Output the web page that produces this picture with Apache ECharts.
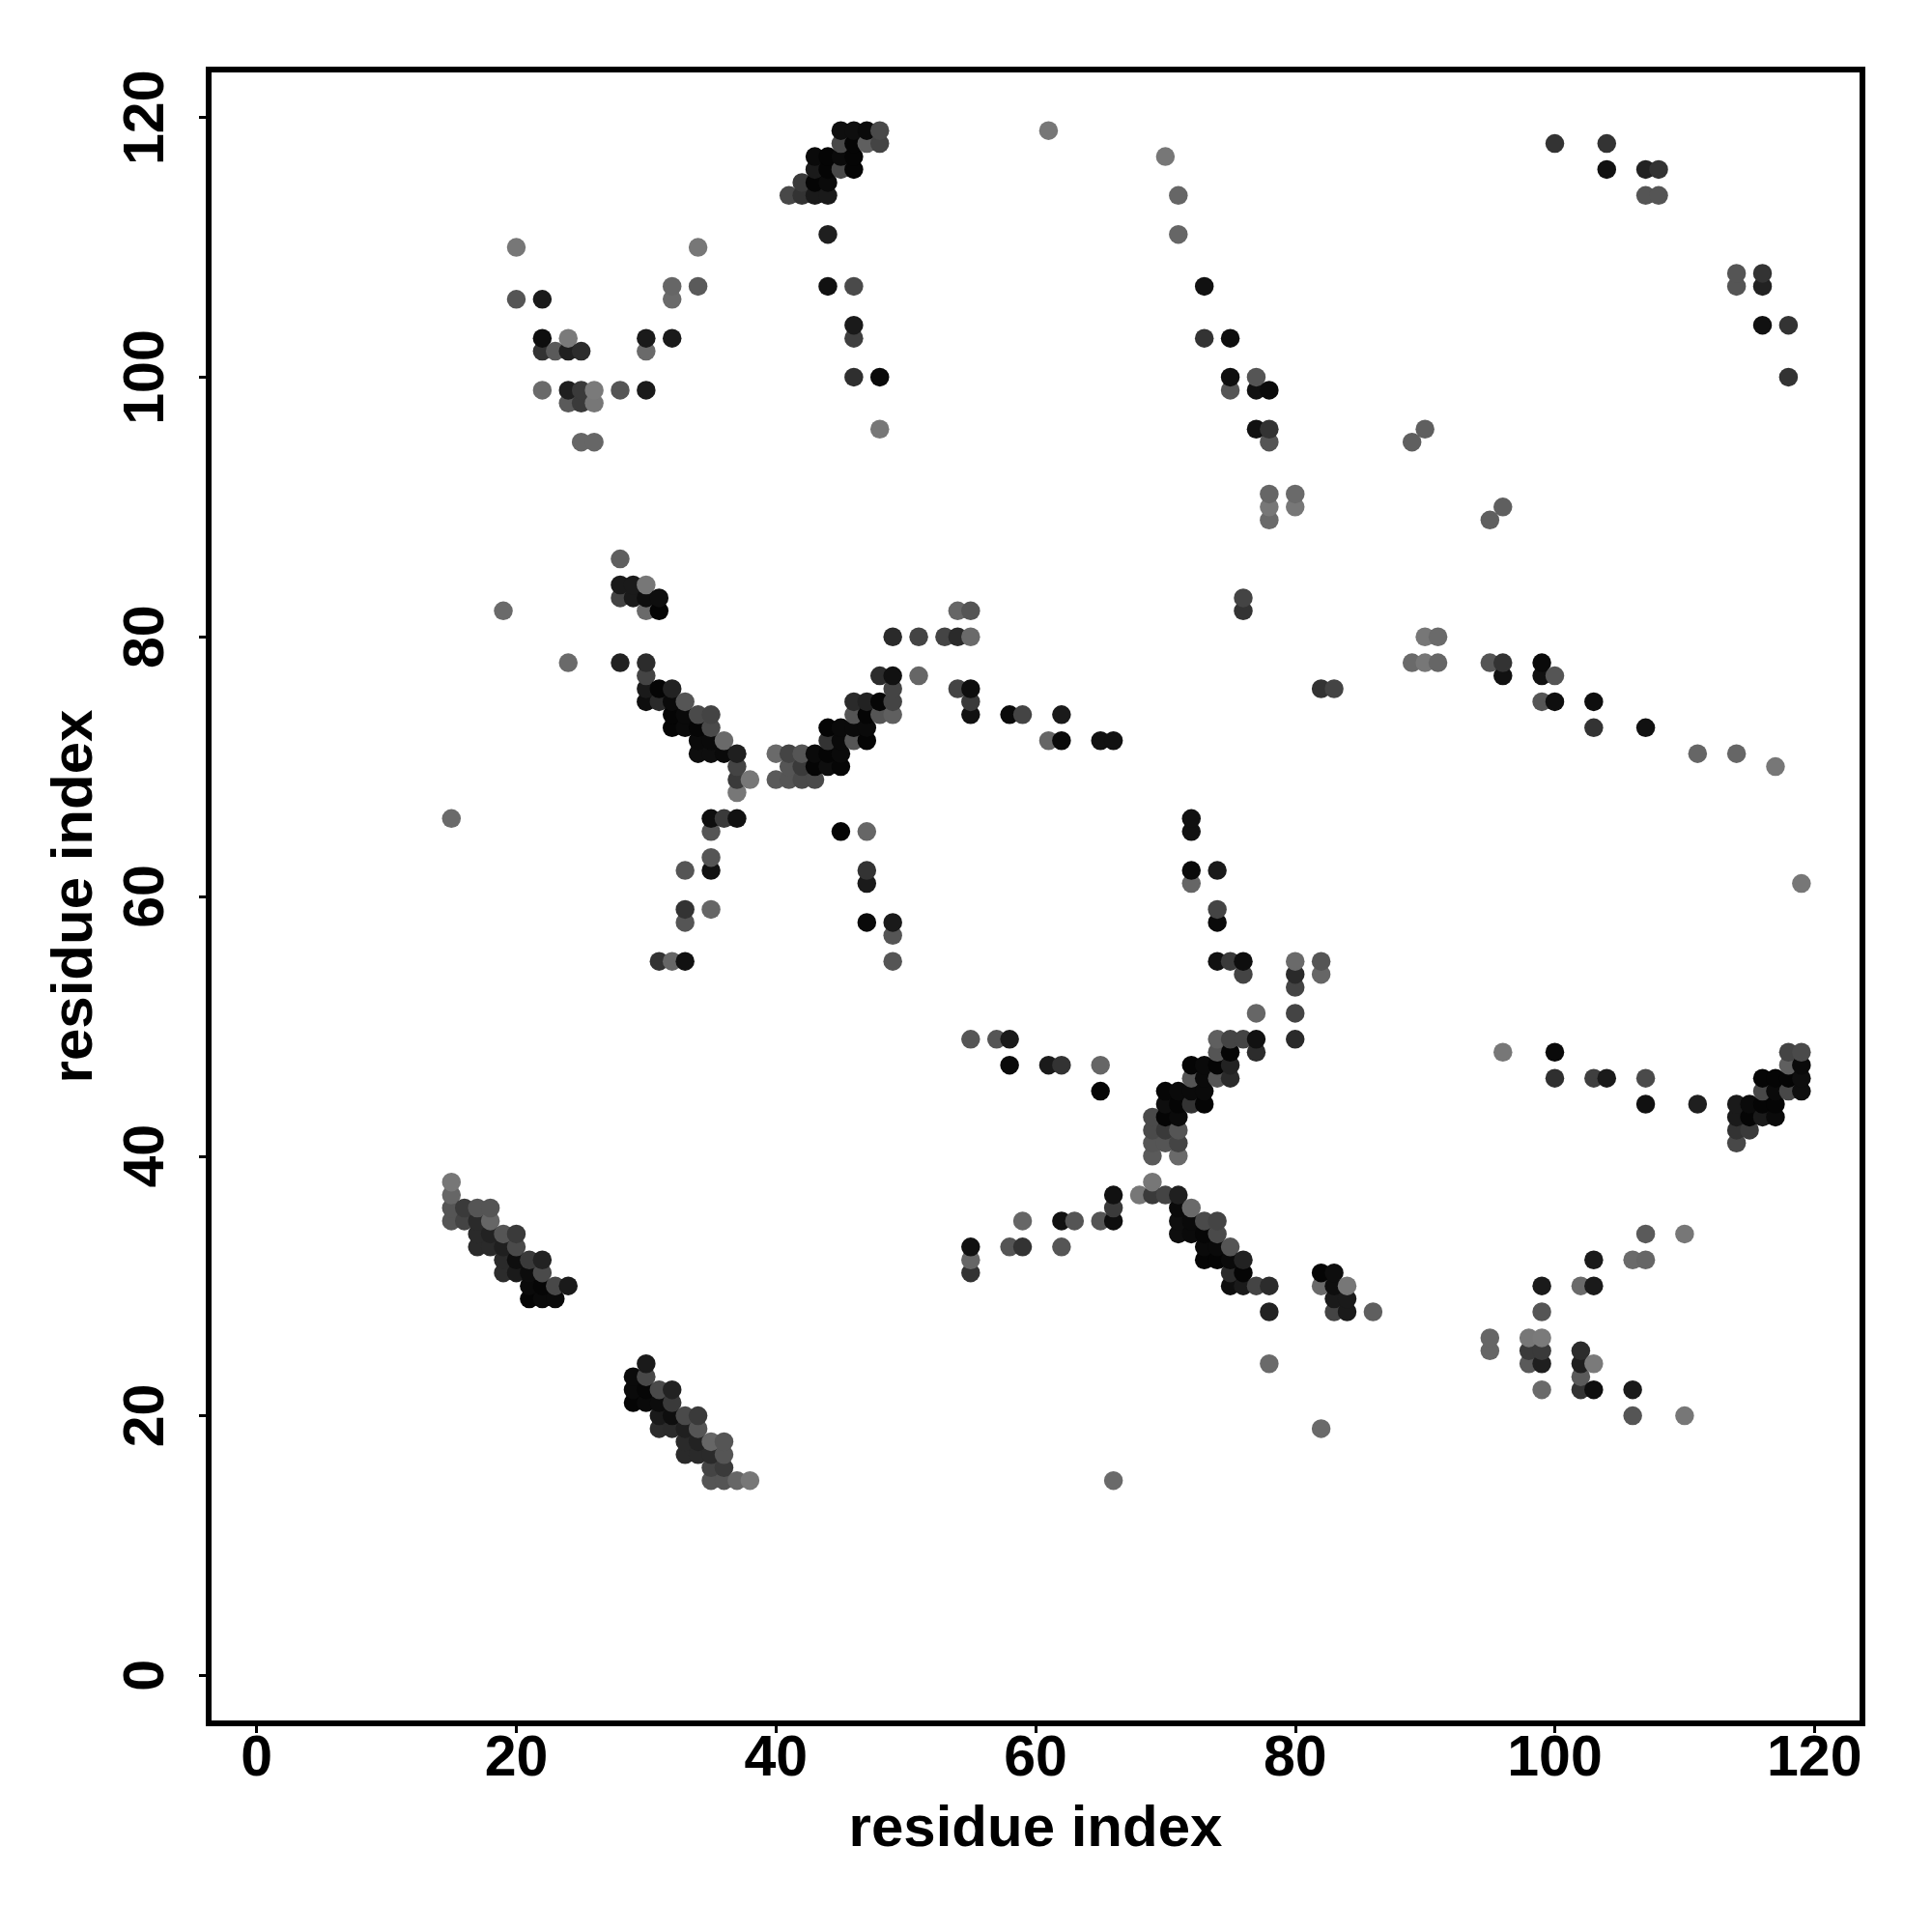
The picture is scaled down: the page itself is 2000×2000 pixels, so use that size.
<!DOCTYPE html>
<html>
<head>
<meta charset="utf-8">
<style>html,body{margin:0;padding:0;background:#fff}#c{width:2000px;height:2000px}</style>
<script src="https://cdn.jsdelivr.net/npm/echarts@6/dist/echarts.min.js"></script>
</head>
<body>
<div id="c"></div>
<script>
// Contact pairs: [residue i, residue j, gray level]. The map is symmetric.
const tickValues = [0, 20, 40, 60, 80, 100, 120];
const xTitle = 'residue index';
const yTitle = 'residue index';

const helixPairs = [
 [15,38,0x77],[15,37,0x66],[15,36,0x55],[16,36,0x3a],[17,36,0x55],[18,36,0x55],[15,35,0x55],[16,35,0x44],[17,35,0x2a],[18,35,0x66],
 [17,34,0x2a],[18,34,0x22],[19,34,0x55],[20,34,0x3a],[17,33,0x2a],[18,33,0x2a],[19,33,0x1f],[20,33,0x4a],
 [19,32,0x2a],[20,32,0x0e],[21,32,0x3a],[22,32,0x22],[19,31,0x2c],[20,31,0x1a],[21,31,0x0c],[22,31,0x4a],
 [21,30,0x0a],[22,30,0x06],[23,30,0x48],[24,30,0x1a],[21,29,0x05],[22,29,0x0a],[23,29,0x0a]
];
const strandPairsA = [
 [28,86,0x5f],[28,84,0x1a],[29,84,0x1a],[30,84,0x77],[28,83,0x44],[29,83,0x1a],[30,83,0x0e],[31,83,0x0e],[30,82,0x6a],[31,82,0x05],
 [28,78,0x22],[30,78,0x2c],[30,77,0x44],[30,76,0x1a],[31,76,0x05],[32,76,0x22],[30,75,0x0e],[31,75,0x2a],[32,75,0x0a],[33,75,0x55],
 [32,74,0x05],[33,74,0x0a],[34,74,0x4a],[35,74,0x44],[32,73,0x05],[33,73,0x0a],[34,73,0x06],[35,73,0x4a],
 [34,72,0x0a],[35,72,0x0a],[36,72,0x6a],[34,71,0x0e],[35,71,0x0e],[36,71,0x0a],[37,71,0x1f],
 [37,70,0x44],[37,69,0x3a],[38,69,0x77],[37,68,0x77]
];
const strandPairsB = [
 [40,71,0x6a],[41,71,0x44],[42,71,0x55],[43,71,0x0a],[44,71,0x05],[45,71,0x0a],
 [41,70,0x55],[42,70,0x3a],[43,70,0x05],[44,70,0x0e],[45,70,0x06],
 [40,69,0x5a],[41,69,0x55],[42,69,0x4a],[43,69,0x4a],
 [44,72,0x33],[45,72,0x0a],[46,72,0x55],[47,72,0x05],[44,73,0x05],[45,73,0x0a],[46,73,0x0a],[47,73,0x0a],
 [46,74,0x55],[47,74,0x05],[48,74,0x55],[49,74,0x5f],[46,75,0x2a],[47,75,0x22],[48,75,0x06],[49,75,0x44],
 [49,76,0x44],[48,77,0x2c],[49,77,0x11],[51,77,0x66],
 [49,80,0x2a],[51,80,0x44],[53,80,0x44],[54,80,0x2a],[55,80,0x6a],[54,82,0x66],[55,82,0x55],
 [54,76,0x44],[55,76,0x0e],[55,75,0x3a],[55,74,0x11],[58,74,0x0a],[59,74,0x44],
 [61,72,0x66],[62,72,0x0a],[62,74,0x1a],[65,72,0x11],[66,72,0x11]
];
const loopPairs = [
 [15,66,0x6a],[19,82,0x6a],[24,78,0x6a],
 [35,66,0x0e],[36,66,0x3a],[37,66,0x11],[35,65,0x55],[35,63,0x55],[35,62,0x11],[33,62,0x55],[33,59,0x33],[33,58,0x55],[35,59,0x66],
 [31,55,0x33],[32,55,0x66],[33,55,0x11],
 [45,65,0x05],[47,65,0x66],[47,62,0x33],[47,61,0x1a],[47,58,0x0a],[49,58,0x1a],[49,57,0x55],[49,55,0x55]
];
const topLeftPairs = [
 [20,110,0x77],[34,110,0x77],[32,107,0x66],[34,107,0x5a],[20,106,0x55],[22,106,0x1a],[32,106,0x6a],
 [22,103,0x0e],[24,103,0x7a],[30,103,0x1a],[32,103,0x1a],[22,102,0x33],[23,102,0x5a],[24,102,0x1f],[25,102,0x2c],[30,102,0x6a],
 [22,99,0x6a],[24,99,0x1f],[25,99,0x3a],[26,99,0x7a],[28,99,0x55],[30,99,0x1a],[24,98,0x5a],[25,98,0x3a],[26,98,0x77],[25,95,0x66],[26,95,0x66]
];
const topMiddlePairs = [
 [45,119,0x0e],[46,119,0x0e],[47,119,0x0a],[48,119,0x4a],[45,118,0x48],[46,118,0x05],[47,118,0x5f],[48,118,0x44],
 [43,117,0x0a],[44,117,0x05],[45,117,0x0a],[46,117,0x05],[43,116,0x1a],[44,116,0x05],[45,116,0x48],[46,116,0x05],
 [42,115,0x3a],[43,115,0x05],[44,115,0x0a],[41,114,0x48],[42,114,0x33],[43,114,0x1a],[44,114,0x1a],
 [44,111,0x1f],[44,107,0x11],[46,107,0x4a],[46,104,0x1a],[46,103,0x3f],[46,100,0x2f],[48,100,0x0a],[48,96,0x77]
];
const farPairs = [
 [61,119,0x77],[70,117,0x77],[71,114,0x66],[71,111,0x66],[73,107,0x11],[73,103,0x33],[75,103,0x0e],[75,100,0x0e],[75,99,0x55],
 [77,100,0x55],[77,99,0x11],[78,99,0x0a],[77,96,0x11],[78,96,0x33],[78,95,0x55],[78,91,0x66],[78,90,0x77],[78,89,0x6a],[80,91,0x6a],[80,90,0x77],
 [76,83,0x44],[76,82,0x33],[89,95,0x5f],[90,96,0x5f],
 [100,118,0x33],[104,118,0x33],[104,116,0x11],[107,116,0x22],[108,116,0x33],[107,114,0x55],[108,114,0x55]
];

const pairGroups = [helixPairs, strandPairsA, strandPairsB, loopPairs, topLeftPairs, topMiddlePairs, farPairs];
const points = [];
pairGroups.forEach(group => group.forEach(([i, j, g]) => { points.push([i, j, g], [j, i, g]); }));
points.sort((a, b) => a[0] - b[0] || a[1] - b[1]);

const ink = '#000';
const font = '"Liberation Sans", Arial, sans-serif';
function axis(name, nameGap, labelMargin, rotate) {
  return {
    type: 'value', min: -3.7, max: 123.7,
    name: name, nameLocation: 'middle', nameGap: nameGap,
    nameTextStyle: { color: ink, fontFamily: font, fontWeight: 'bold', fontSize: 60 },
    axisLine: { show: false, onZero: false },
    axisTick: { show: true, length: 10, customValues: tickValues, lineStyle: { color: ink, width: 3 } },
    axisLabel: { show: true, customValues: tickValues, margin: labelMargin, rotate: rotate, color: ink, fontFamily: font, fontWeight: 'bold', fontSize: 59 },
    splitLine: { show: false }
  };
}
const chart = echarts.init(document.getElementById('c'), null, { renderer: 'canvas', width: 2000, height: 2000 });
chart.setOption({
  animation: false,
  backgroundColor: '#fff',
  grid: { left: 216, top: 72, width: 1712, height: 1712, show: true, borderWidth: 6, borderColor: ink, backgroundColor: '#fff' },
  xAxis: axis(xTitle, 80, 8, 0),
  yAxis: axis(yTitle, 108, 34, 90),
  series: [{
    type: 'scatter', data: points, symbol: 'circle', symbolSize: 19.5, large: false,
    encode: { x: 0, y: 1 },
    itemStyle: { opacity: 1, color: p => { const g = p.value[2]; return 'rgb(' + g + ',' + g + ',' + g + ')'; } }
  }]
});
</script>
</body>
</html>
